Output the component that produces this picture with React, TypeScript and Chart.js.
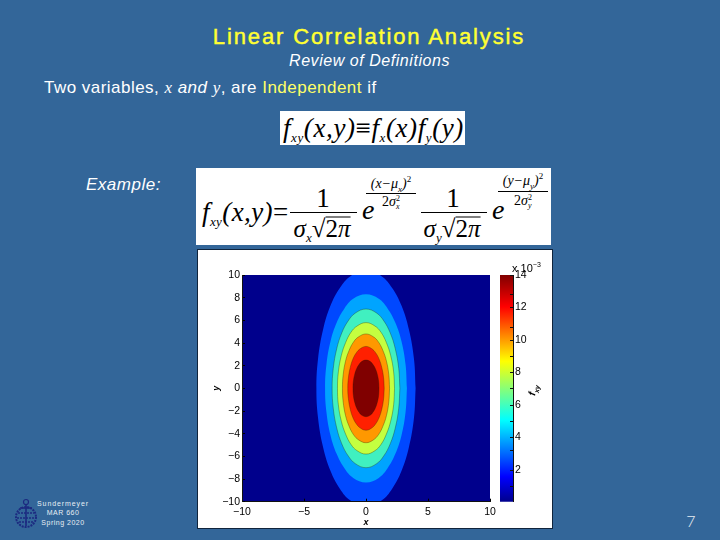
import React, { useEffect, useRef } from "react";
import { Chart, registerables } from "chart.js";

Chart.register(...registerables);

const BG = "#336699";
const SANS = '"Liberation Sans", Arial, sans-serif';
const SERIF = '"Liberation Serif", "Times New Roman", serif';

// Contour outlines (first quadrant): half-width xs at heights ys
const contourNames = ["0.002", "0.004", "0.006", "0.008", "0.010", "0.012", "0.013"];
const contourX = [
  [4.0, 3.87, 3.46, 2.86, 2.11, 1.25, 0],
  [3.3, 3.19, 2.86, 2.36, 1.74, 1.03, 0],
  [2.73, 2.64, 2.36, 1.95, 1.44, 0.85, 0],
  [2.3, 2.23, 1.99, 1.64, 1.21, 0.72, 0],
  [1.9, 1.84, 1.65, 1.36, 1.0, 0.59, 0],
  [1.47, 1.42, 1.27, 1.05, 0.77, 0.46, 0],
  [1.05, 1.02, 0.91, 0.75, 0.55, 0.33, 0],
];
const contourY = [
  [0, 2.6, 5.2, 7.3, 8.85, 9.9, 10.4],
  [0, 2.1, 4.15, 5.8, 7.05, 7.9, 8.3],
  [0, 1.75, 3.5, 4.9, 5.95, 6.65, 7.0],
  [0, 1.45, 2.9, 4.05, 4.95, 5.5, 5.8],
  [0, 1.2, 2.4, 3.35, 4.1, 4.55, 4.8],
  [0, 0.92, 1.85, 2.6, 3.15, 3.5, 3.7],
  [0, 0.62, 1.25, 1.75, 2.12, 2.38, 2.5],
];
const contourColors = ["#0048ff", "#00a4ff", "#40f0c0", "#c4ff40", "#ff9800", "#ff2000", "#800000"];
const backgroundColour = "#00008c";

const xTicks = [-10, -5, 0, 5, 10];
const yTicks = [-10, -8, -6, -4, -2, 0, 2, 4, 6, 8, 10];

const barTicks = [1, 2, 3.2, 4, 5, 6, 7, 8, 9, 10, 10.8, 12, 12.8, 14];
const barLabels = [2, 4, 6, 8, 10, 12, 14];
const barRange = [0.05, 14];
const barStops: [number, string][] = [
  [0, "#00008c"],
  [0.11, "#0000ff"],
  [0.36, "#00ffff"],
  [0.62, "#ffff00"],
  [0.86, "#ff0000"],
  [1, "#800000"],
];

function outline(xs: number[], ys: number[]) {
  const q1 = xs.map((x, i) => ({ x, y: ys[i] }));
  const q2 = q1.slice(0, -1).reverse().map((p) => ({ x: -p.x, y: p.y }));
  const q3 = q1.slice(1).map((p) => ({ x: -p.x, y: -p.y }));
  const q4 = q1.slice(0, -1).reverse().map((p) => ({ x: p.x, y: -p.y }));
  return [...q1, ...q2, ...q3, ...q4];
}

const minus = (v: number) => (v < 0 ? "\u2212" + Math.abs(v) : String(v));

const tickFont = { family: SANS, size: 10.5 };

function T({ x, y, size, color = "#000", italic, bold, font = SANS, ls, children, center, style }: any) {
  return (
    <div
      style={{
        position: "absolute",
        left: x,
        top: y,
        transform: center ? "translate(-50%,-50%)" : "translateY(-50%)",
        fontFamily: font,
        fontSize: size,
        color,
        fontStyle: italic ? "italic" : "normal",
        fontWeight: bold ? "bold" : "normal",
        letterSpacing: ls,
        whiteSpace: "nowrap",
        lineHeight: 1,
        ...style,
      }}
    >
      {children}
    </div>
  );
}

const Sub = ({ s, children }: any) => (
  <span style={{ fontSize: s, verticalAlign: "-0.45em", lineHeight: 0 }}>{children}</span>
);

const Rule = ({ x1, x2, y, w = 1 }: any) => (
  <div style={{ position: "absolute", left: x1, top: y, width: x2 - x1, height: w, background: "#000" }} />
);

function Fraction({ cx, sub, rx1, rx2, ex, ecx, ely, enumY, edenY, evar }: any) {
  return (
    <>
      <T x={cx} y={198} size={27} font={SERIF} center>1</T>
      <Rule x1={rx1} x2={rx2} y={212} />
      <T x={cx - 1} y={228} size={25} font={SERIF} italic center>
        σ<Sub s={13}>{sub}</Sub>
        <span style={{ fontStyle: "normal" }}>√</span>
        <span style={{ borderTop: "1px solid #000", fontStyle: "normal", display: "inline-block", lineHeight: "22px" }}>
          2<i>π</i>
        </span>
      </T>
      <T x={ex} y={210} size={28} font={SERIF} italic>e</T>
      <Rule x1={ecx - 25} x2={ecx + 25} y={ely} />
      <T x={ecx} y={enumY} size={14} font={SERIF} italic center>
        ({evar}−μ<Sub s={9}>{sub}</Sub>)<sup style={{ fontSize: 9, lineHeight: 0, fontStyle: "normal" }}>2</sup>
      </T>
      <T x={ecx} y={edenY} size={14} font={SERIF} italic center>
        <span style={{ fontStyle: "normal" }}>2</span>σ
        <span style={{ display: "inline-block", fontSize: 8, lineHeight: "8px", verticalAlign: "middle", fontStyle: "normal" }}>
          2<br />
          <i>{sub}</i>
        </span>
      </T>
    </>
  );
}

export default function App() {
  const mainRef = useRef<HTMLCanvasElement>(null);
  const barRef = useRef<HTMLCanvasElement>(null);

  useEffect(() => {
    document.body.style.margin = "0";
    document.body.style.background = BG;

    const main = new Chart(mainRef.current!, {
      type: "scatter",
      data: {
        datasets: contourX.map((xs, i) => ({
          label: contourNames[i],
          order: contourX.length - i,
          data: outline(xs, contourY[i]),
          showLine: true,
          fill: "shape",
          tension: 0.4,
          backgroundColor: contourColors[i],
          borderColor: i < 2 ? contourColors[i] : "rgba(40,30,0,0.55)",
          borderWidth: i < 2 ? 0 : 0.6,
          pointRadius: 0,
        })),
      },
      options: {
        animation: false,
        responsive: false,
        events: [],
        layout: { padding: { top: 25, right: 18, bottom: 0, left: 0 } },
        plugins: { legend: { display: false }, tooltip: { enabled: false } },
        scales: {
          x: {
            type: "linear",
            min: -10,
            max: 10,
            afterBuildTicks: (s: any) => { s.ticks = xTicks.map((value) => ({ value })); },
            afterFit: (s: any) => { s.height = 26.3; },
            ticks: { callback: (v: any) => minus(Number(v)), color: "#000", font: tickFont, padding: 7, maxRotation: 0 },
            grid: { drawOnChartArea: false, tickLength: -3, tickColor: "#000", z: 1 },
            border: { color: "#111", z: 1 },
            title: { display: true, text: "x", color: "#000", font: { family: SANS, size: 9, style: "italic", weight: "bold" }, padding: 0 },
          },
          y: {
            type: "linear",
            min: -10,
            max: 10,
            afterBuildTicks: (s: any) => { s.ticks = yTicks.map((value) => ({ value })); },
            afterFit: (s: any) => { s.width = 44; },
            ticks: { callback: (v: any) => minus(Number(v)), color: "#000", font: tickFont, padding: 5, autoSkip: false },
            grid: { drawOnChartArea: false, tickLength: -3, tickColor: "#000", z: 1 },
            border: { color: "#111", z: 1 },
            title: { display: true, text: "y", color: "#000", font: { family: SANS, size: 9, style: "italic", weight: "bold" }, padding: { top: 13, bottom: 0 } },
          },
        },
      },
      plugins: [
        {
          id: "plotBackground",
          beforeDatasetsDraw(c: any) {
            const a = c.chartArea;
            c.ctx.save();
            c.ctx.fillStyle = backgroundColour;
            c.ctx.fillRect(a.left, a.top, a.width, a.height);
            c.ctx.restore();
          },
        },
      ],
    } as any);

    const bar = new Chart(barRef.current!, {
      type: "bar",
      data: {
        labels: ["fxy"],
        datasets: [
          {
            data: [barRange as any],
            barPercentage: 1,
            categoryPercentage: 1,
            backgroundColor: (ctx: any) => {
              const a = ctx.chart.chartArea;
              if (!a) return barStops[0][1];
              const g = ctx.chart.ctx.createLinearGradient(0, a.bottom, 0, a.top);
              barStops.forEach(([p, c]) => g.addColorStop(p, c));
              return g;
            },
          },
        ],
      },
      options: {
        animation: false,
        responsive: false,
        events: [],
        layout: { padding: { top: 5, bottom: 8.3, left: 0, right: 0 } },
        plugins: { legend: { display: false }, tooltip: { enabled: false } },
        scales: {
          x: { display: false },
          y: {
            position: "right",
            min: barRange[0],
            max: barRange[1],
            afterBuildTicks: (s: any) => { s.ticks = barTicks.map((value) => ({ value })); },
            afterFit: (s: any) => { s.width = 27; s.paddingTop = 0; s.paddingBottom = 0; },
            ticks: {
              callback: (v: any) => (barLabels.includes(Number(v)) ? String(v) : ""),
              color: "#000",
              font: tickFont,
              padding: 5,
              autoSkip: false,
              maxRotation: 0,
            },
            grid: { drawOnChartArea: false, tickLength: -3, tickColor: "#111", z: 1 },
            border: { color: "#111", z: 1 },
          },
        },
      },
    } as any);

    return () => {
      main.destroy();
      bar.destroy();
    };
  }, []);

  return (
    <div style={{ position: "relative", width: 720, height: 540, background: BG, overflow: "hidden" }}>
      <T x={369} y={37} size={22} color="#ffff33" center ls="1.88px" style={{ WebkitTextStroke: "0.45px #ffff33" }}>
        Linear Correlation Analysis
      </T>
      <T x={369.5} y={61} size={16} color="#fff" italic center ls="0.55px">Review of Definitions</T>
      <T x={44} y={87} size={17} color="#fff" ls="0.47px">
        Two variables, <i style={{ fontFamily: SERIF }}>x</i> <i>and</i> <i style={{ fontFamily: SERIF }}>y</i>, are{" "}
        <span style={{ color: "#ffff66" }}>Independent</span> if
      </T>
      <T x={86} y={184} size={17} color="#fff" italic ls="0.5px">Example:</T>

      {/* equation 1 */}
      <div style={{ position: "absolute", left: 280, top: 111, width: 185, height: 34, background: "#fff" }} />
      <T x={283} y={128} size={27} font={SERIF} italic ls="0.6px">
        f<Sub s={13}>xy</Sub>(x,y)<span style={{ fontStyle: "normal" }}>≡</span>f<Sub s={13}>x</Sub>(x)f<Sub s={13}>y</Sub>(y)
      </T>

      {/* equation 2 */}
      <div style={{ position: "absolute", left: 196, top: 168, width: 355, height: 77, background: "#fff" }} />
      <T x={202} y={212} size={27} font={SERIF} italic ls="0.4px">
        f<Sub s={13}>xy</Sub>(x,y)<span style={{ fontStyle: "normal" }}>=</span>
      </T>
      <Fraction cx={323} sub="x" rx1={290} rx2={357} ex={362} ecx={391} ely={193} enumY={184} edenY={203} evar="x" />
      <Fraction cx={453} sub="y" rx1={421} rx2={487} ex={492} ecx={523} ely={191} enumY={181} edenY={202} evar="y" />

      {/* figure panel */}
      <div style={{ position: "absolute", left: 198, top: 250, width: 354, height: 278, background: "#fff", boxShadow: "0 0 0 1px #10243c" }} />
      <canvas ref={mainRef} width={310} height={278} style={{ position: "absolute", left: 198, top: 250, width: 310, height: 278 }} />
      <canvas ref={barRef} width={40} height={240} style={{ position: "absolute", left: 500, top: 270, width: 40, height: 240 }} />
      <T x={512} y={268} size={11}>
        x 10<sup style={{ fontSize: 7, lineHeight: 0 }}>−3</sup>
      </T>
      <T x={533} y={390} size={10} italic bold center style={{ transform: "translate(-50%,-50%) rotate(-80deg)" }}>
        f<Sub s={7}>xy</Sub>
      </T>

      {/* footer */}
      <svg width={28} height={32} style={{ position: "absolute", left: 13, top: 497 }} viewBox="0 0 28 32">
        <g fill="none" stroke="#1c2a80">
          <circle cx={13} cy={5} r={2.5} strokeWidth={1.2} />
          <path d="M13 7V29M7 11H19" strokeWidth={1.6} />
          <circle cx={13} cy={20} r={10} strokeWidth={2} strokeDasharray="2 1" />
          <path d="M5 16H21M4 21H22M6 25H20" strokeWidth={1.5} strokeDasharray="2 1" />
        </g>
      </svg>
      <T x={63} y={503} size={7} color="#e8eef4" center ls="0.9px">Sundermeyer</T>
      <T x={63} y={512} size={7} color="#e8eef4" center ls="0.5px">MAR 660</T>
      <T x={63} y={522} size={7} color="#e8eef4" center ls="0.5px">Spring 2020</T>
      <T x={691} y={521} size={16} color="#e6ecf2" center font='"Lato", sans-serif' style={{ fontWeight: 300 }}>7</T>
    </div>
  );
}
